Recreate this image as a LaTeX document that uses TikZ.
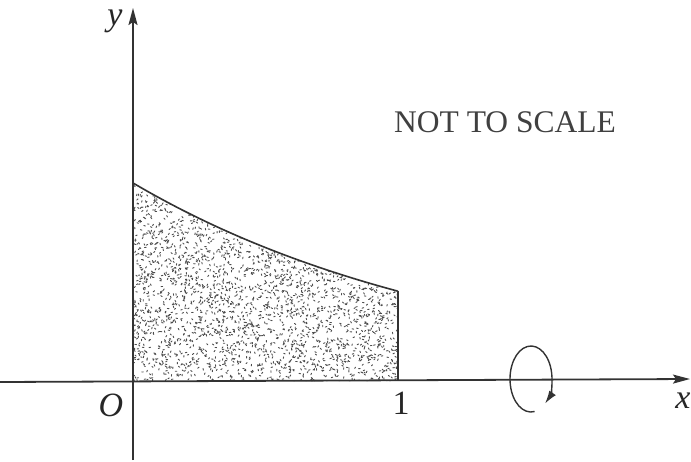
\documentclass[tikz,border=0pt]{standalone}
\usepackage{fontspec}
\setmainfont{Liberation Serif}
\usetikzlibrary{arrows.meta}
\begin{document}
\begin{tikzpicture}[x=1pt,y=-1pt,
  axisline/.style={line width=1.8pt, draw=black!80},
  curveline/.style={line width=1.6pt, draw=black!80},
  axlabel/.style={font=\fontsize{34}{38}\selectfont\itshape, text=black!85, inner sep=0pt},
  numlabel/.style={font=\fontsize{34}{38}\selectfont, text=black!85, inner sep=0pt},
  note/.style={font=\fontsize{31.5}{36}\selectfont, text=black!75, inner sep=0pt},
  axtip/.style={-{Stealth[length=17pt,width=9pt,inset=3pt]}},
]
\useasboundingbox (0,0) rectangle (691,461);
% coordinates
\coordinate (origin) at (133,381);
\coordinate (xstart) at (0,382);
\coordinate (xend) at (690,379);
\coordinate (ybot) at (133,460);
\coordinate (yend) at (133,8);
\coordinate (ctop) at (133,183);
\coordinate (rtop) at (398,{382-199*exp(-0.785)});
\coordinate (rbot) at (398,381);
% stippled region
\begin{scope}
  \clip (origin) -- (ctop) -- plot[domain=0:265,samples=60] ({133+\x},{382-199*exp(-0.785*\x/265)}) -- (rbot) -- cycle;
  \pgfmathsetseed{11}
  \foreach \i in {1,...,3400}{
    \pgfmathsetmacro\px{133+266*rnd}
    \pgfmathsetmacro\py{182+200*rnd}
    \pgfmathsetmacro\pa{360*rnd}
    \draw[black!70, line width=0.9pt, line cap=round] (\px,\py) -- ++(\pa:1.6);
  }
\end{scope}
% curve and right edge
\draw[curveline] plot[domain=0:265,samples=60] ({133+\x},{382-199*exp(-0.785*\x/265)});
\draw[curveline] (rtop) -- (rbot);
% axes
\draw[axisline, axtip] (xstart) -- (xend);
\draw[axisline, axtip] (ybot) -- (yend);
% labels
\node[axlabel] (yl) at (115,21) {y};
\node[axlabel] (xl) at (683,401) {x};
\node[axlabel] (O) at (111,405) {O};
\node[numlabel] (one) at (401,403) {1};
\node[note] (nt) at (505,122) {NOT TO SCALE};
% rotation arrow
\coordinate (rc) at (531,379);
\draw[line width=1.4pt, black!80, -{Latex[length=13pt,width=8pt]}]
  (rc) ++(80:21 and 33) arc[start angle=80, end angle=408, x radius=21, y radius=33];
\end{tikzpicture}
\end{document}
